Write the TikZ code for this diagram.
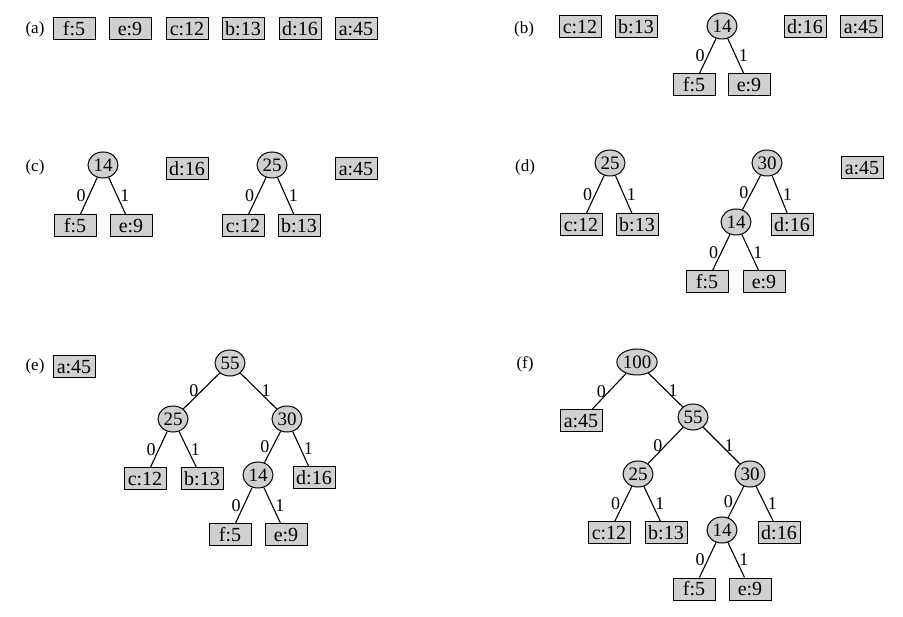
\documentclass[tikz,border=0pt]{standalone}
\usepackage{fontspec}
\setmainfont{Liberation Serif}
\usetikzlibrary{shapes.geometric}
\definecolor{boxgray}{RGB}{208,208,208}
\tikzset{
  leaf/.style={draw, line width=1pt, fill=boxgray, minimum width=42pt, minimum height=22pt, inner sep=0pt, font=\fontsize{20}{20}\selectfont},
  inode/.style={draw, line width=1pt, fill=boxgray, ellipse, minimum width=30pt, minimum height=26pt, inner sep=0pt, font=\fontsize{19}{19}\selectfont},
  panel/.style={font=\fontsize{17}{17}\selectfont},
  edge/.style={line width=1.1pt},
  zero/.style={left, inner sep=2.5pt, font=\fontsize{18}{18}\selectfont},
  one/.style={right, inner sep=2.5pt, font=\fontsize{18}{18}\selectfont}
}
\begin{document}
\begin{tikzpicture}[x=1pt, y=-1pt]
\useasboundingbox[fill=white] (0,0) rectangle (903,617);
% (a)
\node[panel] (la) at (35,29) {(a)};
\node[leaf] (af) at (74,29) {f:5};
\node[leaf] (ae) at (130,29) {e:9};
\node[leaf] (ac) at (187,29) {c:12};
\node[leaf] (ab) at (243,29) {b:13};
\node[leaf] (ad) at (300,29) {d:16};
\node[leaf] (aa) at (356,29) {a:45};
% (b)
\node[panel] (lb) at (524,29) {(b)};
\node[leaf] (bc) at (580,27) {c:12};
\node[leaf] (bb) at (636,27) {b:13};
\node[inode] (b14) at (722,26) {14};
\node[leaf] (bf) at (694,85) {f:5};
\node[leaf] (be) at (749,85) {e:9};
\node[leaf] (bd) at (805,27) {d:16};
\node[leaf] (ba) at (861,27) {a:45};
\draw[edge] (b14) -- node[zero]{0} (bf);
\draw[edge] (b14) -- node[one]{1} (be);
% (c)
\node[panel] (lc) at (35,167) {(c)};
\node[inode] (c14) at (103,165) {14};
\node[leaf] (cf) at (75,226) {f:5};
\node[leaf] (ce) at (131,226) {e:9};
\node[leaf] (cd) at (187,169) {d:16};
\node[inode] (c25) at (272,165) {25};
\node[leaf] (cc) at (243,226) {c:12};
\node[leaf] (cb) at (299,226) {b:13};
\node[leaf] (ca) at (356,169) {a:45};
\draw[edge] (c14) -- node[zero]{0} (cf);
\draw[edge] (c14) -- node[one]{1} (ce);
\draw[edge] (c25) -- node[zero]{0} (cc);
\draw[edge] (c25) -- node[one]{1} (cb);
% (d)
\node[panel] (ld) at (525,167) {(d)};
\node[inode] (d25) at (610,163) {25};
\node[leaf] (dc) at (581,225) {c:12};
\node[leaf] (db) at (637,225) {b:13};
\node[inode] (d30) at (767,163) {30};
\node[inode] (d14) at (736,222) {14};
\node[leaf] (dd) at (792,225) {d:16};
\node[leaf] (df) at (707,282) {f:5};
\node[leaf] (de) at (764,282) {e:9};
\node[leaf] (da) at (862,168) {a:45};
\draw[edge] (d25) -- node[zero]{0} (dc);
\draw[edge] (d25) -- node[one]{1} (db);
\draw[edge] (d30) -- node[zero]{0} (d14);
\draw[edge] (d30) -- node[one]{1} (dd);
\draw[edge] (d14) -- node[zero]{0} (df);
\draw[edge] (d14) -- node[one]{1} (de);
% (e)
\node[panel] (le) at (35,366) {(e)};
\node[leaf] (ea) at (74,367) {a:45};
\node[inode] (e55) at (230,363) {55};
\node[inode] (e25) at (173,419) {25};
\node[inode] (e30) at (287,419) {30};
\node[leaf] (ec) at (145,479) {c:12};
\node[leaf] (eb) at (202,479) {b:13};
\node[inode] (e14) at (258,475) {14};
\node[leaf] (ed) at (314,478) {d:16};
\node[leaf] (ef) at (230,535) {f:5};
\node[leaf] (ee) at (286,535) {e:9};
\draw[edge] (e55) -- node[zero]{0} (e25);
\draw[edge] (e55) -- node[one]{1} (e30);
\draw[edge] (e25) -- node[zero]{0} (ec);
\draw[edge] (e25) -- node[one]{1} (eb);
\draw[edge] (e30) -- node[zero]{0} (e14);
\draw[edge] (e30) -- node[one]{1} (ed);
\draw[edge] (e14) -- node[zero]{0} (ef);
\draw[edge] (e14) -- node[one]{1} (ee);
% (f)
\node[panel] (lf) at (525,364) {(f)};
\node[inode, minimum width=36pt] (f100) at (637,362) {100};
\node[leaf] (fa) at (581,421) {a:45};
\node[inode] (f55) at (693,417) {55};
\node[inode] (f25) at (638,474) {25};
\node[inode] (f30) at (750,474) {30};
\node[leaf] (fc) at (609,533) {c:12};
\node[leaf] (fb) at (666,533) {b:13};
\node[inode] (f14) at (722,530) {14};
\node[leaf] (fd) at (779,533) {d:16};
\node[leaf] (ff) at (694,589) {f:5};
\node[leaf] (fe) at (750,589) {e:9};
\draw[edge] (f100) -- node[zero]{0} (fa);
\draw[edge] (f100) -- node[one]{1} (f55);
\draw[edge] (f55) -- node[zero]{0} (f25);
\draw[edge] (f55) -- node[one]{1} (f30);
\draw[edge] (f25) -- node[zero]{0} (fc);
\draw[edge] (f25) -- node[one]{1} (fb);
\draw[edge] (f30) -- node[zero]{0} (f14);
\draw[edge] (f30) -- node[one]{1} (fd);
\draw[edge] (f14) -- node[zero]{0} (ff);
\draw[edge] (f14) -- node[one]{1} (fe);
\end{tikzpicture}
\end{document}
